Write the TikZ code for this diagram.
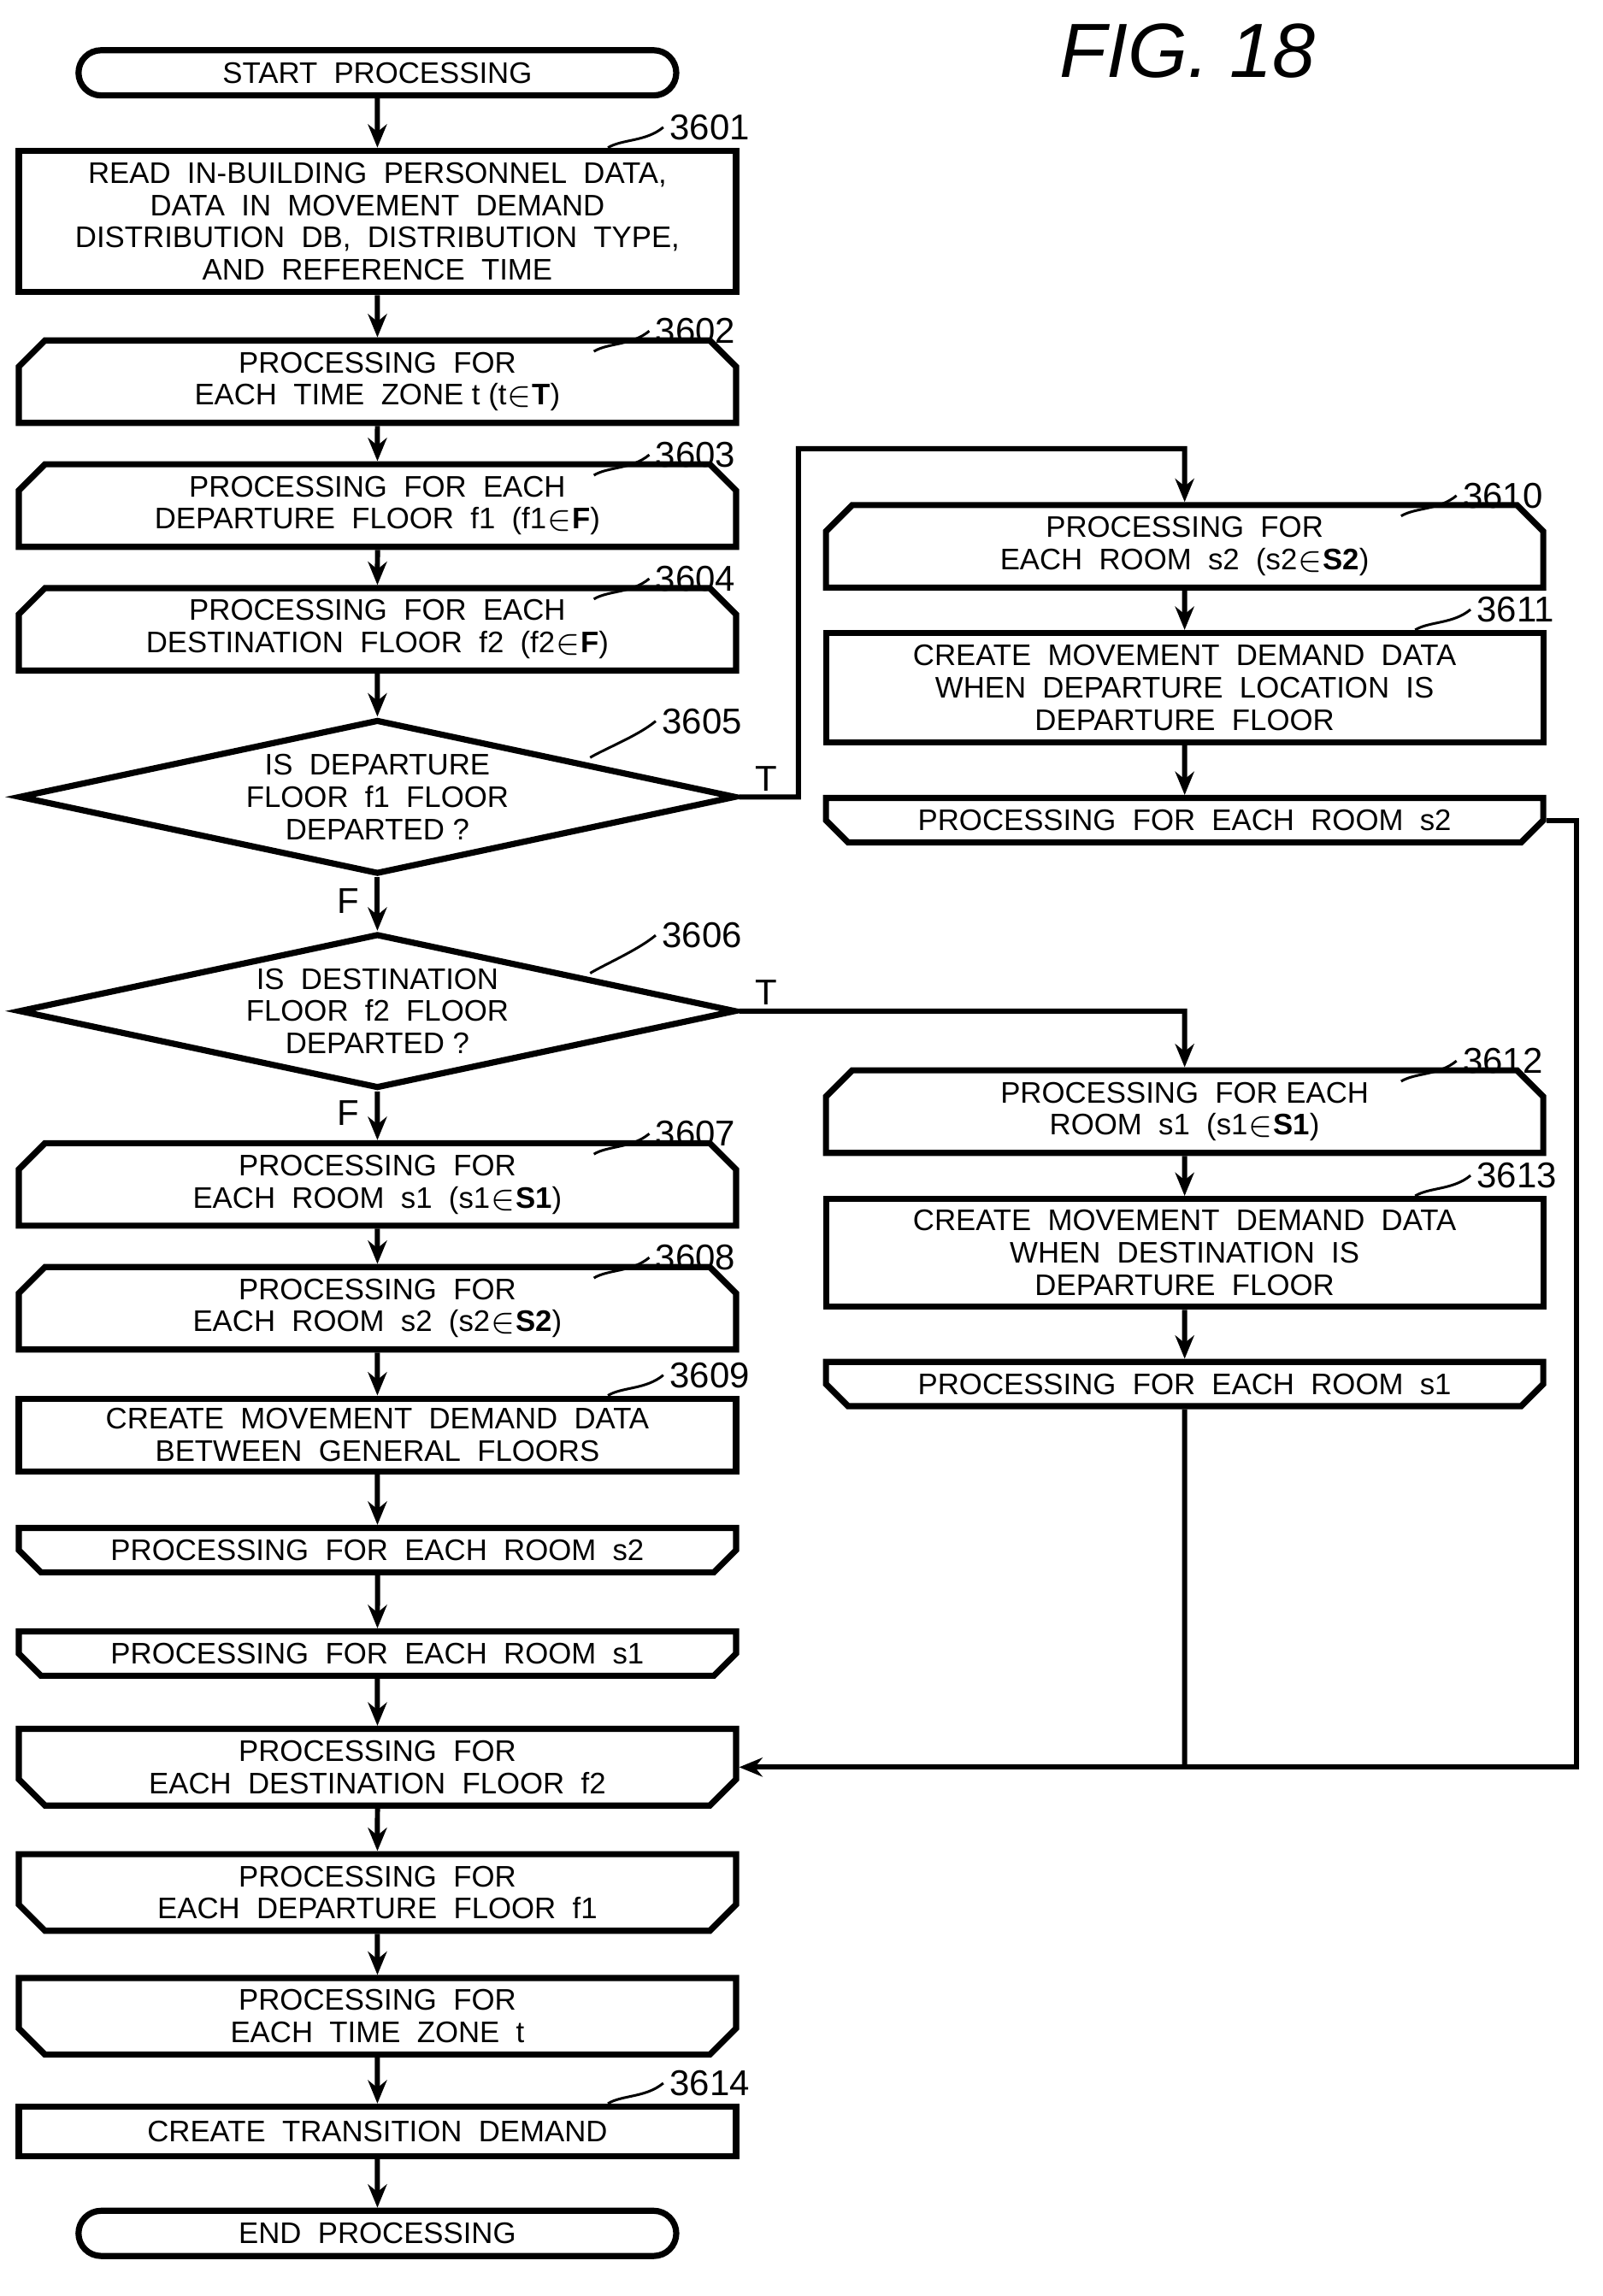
\documentclass[tikz,border=0pt]{standalone}
\usepackage{fontspec}
\setmainfont{Liberation Sans}
\usetikzlibrary{positioning}
\usetikzlibrary{shapes.geometric,shapes.misc}
\usetikzlibrary {arrows.meta}
\tikzset{flow/.style={draw=black,line width=1.2pt,inner sep=0pt,align=center,
font=\fontsize{5.8}{6.3}\selectfont,minimum width=4.92cm}}
\tikzset{procbox/.style={flow,rectangle}}
\tikzset{loopstart/.style={flow,chamfered rectangle,chamfered rectangle xsep=0.1cm,
chamfered rectangle ysep=0.08cm,chamfered rectangle corners={north west,north east}}}
\tikzset{loopend/.style={flow,chamfered rectangle,chamfered rectangle xsep=0.1cm,
chamfered rectangle ysep=0.08cm,chamfered rectangle corners={south west,south east}}}
\tikzset{decide/.style={flow,diamond,aspect=4.6,minimum height=1.06cm}}
\tikzset{terminal/.style={flow,rounded rectangle,minimum width=4.1cm,minimum height=0.31cm}}
\tikzset{conn/.style={line width=1pt,-{Stealth[length=1.6mm,width=1.3mm]}}}
\tikzset{plain/.style={line width=1pt}}
\tikzset{tag/.style={font=\fontsize{7}{7}\selectfont,inner sep=1pt}}
\newcommand\reflabel[3]{%
  \draw[line width=0.5pt] ([xshift=-0.9cm]#1.north east) .. controls +(0.1cm,0.06cm) and +(-0.12cm,-0.1cm) .. ++(0.38cm,0.14cm)
    node[tag,right] (#2) {#3};}
\begin{document}
\begin{tikzpicture}[x=0.01cm,y=-0.01cm]
\useasboundingbox (0,0) rectangle (1100,1576);

\node[font=\itshape\fontsize{15}{15}\selectfont] (fig) at (815,35) {FIG. 18};

% left column
\node[terminal] (start) at (259,50) {START\ \ PROCESSING};
\node[procbox,minimum height=0.97cm] (s3601) at (259,152) {READ\ \ IN-BUILDING\ \ PERSONNEL\ \ DATA,\\DATA\ \ IN\ \ MOVEMENT\ \ DEMAND\\DISTRIBUTION\ \ DB,\ \ DISTRIBUTION\ \ TYPE,\\AND\ \ REFERENCE\ \ TIME};
\node[loopstart,minimum height=0.4cm] (s3602) at (259,262) {PROCESSING\ \ FOR\\EACH\ \ TIME\ \ ZONE t (t$\in$\textbf{T})};
\node[loopstart,minimum height=0.4cm] (s3603) at (259,347) {PROCESSING\ \ FOR\ \ EACH\\DEPARTURE\ \ FLOOR\ \ f1\ \ (f1$\in$\textbf{F})};
\node[loopstart,minimum height=0.4cm] (s3604) at (259,432) {PROCESSING\ \ FOR\ \ EACH\\DESTINATION\ \ FLOOR\ \ f2\ \ (f2$\in$\textbf{F})};
\node[decide] (s3605) at (259,547) {IS\ \ DEPARTURE\\FLOOR\ \ f1\ \ FLOOR\\DEPARTED ?};
\node[decide] (s3606) at (259,694) {IS\ \ DESTINATION\\FLOOR\ \ f2\ \ FLOOR\\DEPARTED ?};
\node[loopstart,minimum height=0.4cm] (s3607) at (259,813) {PROCESSING\ \ FOR\\EACH\ \ ROOM\ \ s1\ \ (s1$\in$\textbf{S1})};
\node[loopstart,minimum height=0.4cm] (s3608) at (259,898) {PROCESSING\ \ FOR\\EACH\ \ ROOM\ \ s2\ \ (s2$\in$\textbf{S2})};
\node[procbox,minimum height=0.5cm] (s3609) at (259,985) {CREATE\ \ MOVEMENT\ \ DEMAND\ \ DATA\\BETWEEN\ \ GENERAL\ \ FLOORS};
\node[loopend,minimum height=0.24cm] (ends2) at (259,1064) {PROCESSING\ \ FOR\ \ EACH\ \ ROOM\ \ s2};
\node[loopend,minimum height=0.24cm] (ends1) at (259,1135) {PROCESSING\ \ FOR\ \ EACH\ \ ROOM\ \ s1};
\node[loopend,minimum height=0.4cm] (endf2) at (259,1213) {PROCESSING\ \ FOR\\EACH\ \ DESTINATION\ \ FLOOR\ \ f2};
\node[loopend,minimum height=0.4cm] (endf1) at (259,1299) {PROCESSING\ \ FOR\\EACH\ \ DEPARTURE\ \ FLOOR\ \ f1};
\node[loopend,minimum height=0.4cm] (endt) at (259,1384) {PROCESSING\ \ FOR\\EACH\ \ TIME\ \ ZONE\ \ t};
\node[procbox,minimum height=0.34cm] (s3614) at (259,1463) {CREATE\ \ TRANSITION\ \ DEMAND};
\node[terminal] (stop) at (259,1533) {END\ \ PROCESSING};

% right column
\node[loopstart,minimum height=0.4cm] (s3610) at (813,375) {PROCESSING\ \ FOR\\EACH\ \ ROOM\ \ s2\ \ (s2$\in$\textbf{S2})};
\node[procbox,minimum height=0.75cm] (s3611) at (813,472) {CREATE\ \ MOVEMENT\ \ DEMAND\ \ DATA\\WHEN\ \ DEPARTURE\ \ LOCATION\ \ IS\\DEPARTURE\ \ FLOOR};
\node[loopend,minimum height=0.24cm] (rends2) at (813,563) {PROCESSING\ \ FOR\ \ EACH\ \ ROOM\ \ s2};
\node[loopstart,minimum height=0.4cm] (s3612) at (813,763) {PROCESSING\ \ FOR EACH\\ROOM\ \ s1\ \ (s1$\in$\textbf{S1})};
\node[procbox,minimum height=0.74cm] (s3613) at (813,860) {CREATE\ \ MOVEMENT\ \ DEMAND\ \ DATA\\WHEN\ \ DESTINATION\ \ IS\\DEPARTURE\ \ FLOOR};
\node[loopend,minimum height=0.24cm] (rends1) at (813,950) {PROCESSING\ \ FOR\ \ EACH\ \ ROOM\ \ s1};

% main flow
\draw[conn] (start) -- (s3601);
\draw[conn] (s3601) -- (s3602);
\draw[conn] (s3602) -- (s3603);
\draw[conn] (s3603) -- (s3604);
\draw[conn] (s3604) -- (s3605);
\draw[conn] (s3605) -- node[tag,pos=0.45,left=2pt] (f1) {F} (s3606);
\draw[conn] (s3606) -- node[tag,pos=0.45,left=2pt] (f2) {F} (s3607);
\draw[conn] (s3607) -- (s3608);
\draw[conn] (s3608) -- (s3609);
\draw[conn] (s3609) -- (ends2);
\draw[conn] (ends2) -- (ends1);
\draw[conn] (ends1) -- (endf2);
\draw[conn] (endf2) -- (endf1);
\draw[conn] (endf1) -- (endt);
\draw[conn] (endt) -- (s3614);
\draw[conn] (s3614) -- (stop);

% branches
\coordinate (up1) at (548,547);
\coordinate (up2) at (548,308);
\coordinate (up3) at (813,308);
\draw[conn] (s3605.east) -- (up1) -- (up2) -- (up3) -- (s3610);
\node[tag,above right=0pt and 2pt of s3605.east] (t1) {T};
\draw[conn] (s3610) -- (s3611);
\draw[conn] (s3611) -- (rends2);
\coordinate (dn1) at (813,694);
\draw[conn] (s3606.east) -- (dn1) -- (s3612);
\node[tag,above right=0pt and 2pt of s3606.east] (t2) {T};
\draw[conn] (s3612) -- (s3613);
\draw[conn] (s3613) -- (rends1);

% returns
\coordinate (back1) at (1082,563);
\coordinate (back2) at (1082,1213);
\coordinate (join) at (813,1213);
\draw[conn] (rends2.east) -- (back1) -- (back2) -- (endf2.east);
\draw[plain] (rends1) -- (join);

% reference numbers
\reflabel{s3601}{l3601}{3601}
\reflabel{s3602}{l3602}{3602}
\reflabel{s3603}{l3603}{3603}
\reflabel{s3604}{l3604}{3604}
\draw[line width=0.5pt] (405,520) .. controls +(0.1cm,0.06cm) and +(-0.12cm,-0.1cm) .. (450,495) node[tag,right] (l3605) {3605};
\draw[line width=0.5pt] (405,668) .. controls +(0.1cm,0.06cm) and +(-0.12cm,-0.1cm) .. (450,642) node[tag,right] (l3606) {3606};
\reflabel{s3607}{l3607}{3607}
\reflabel{s3608}{l3608}{3608}
\reflabel{s3609}{l3609}{3609}
\reflabel{s3610}{l3610}{3610}
\reflabel{s3611}{l3611}{3611}
\reflabel{s3612}{l3612}{3612}
\reflabel{s3613}{l3613}{3613}
\reflabel{s3614}{l3614}{3614}
\end{tikzpicture}
\end{document}
